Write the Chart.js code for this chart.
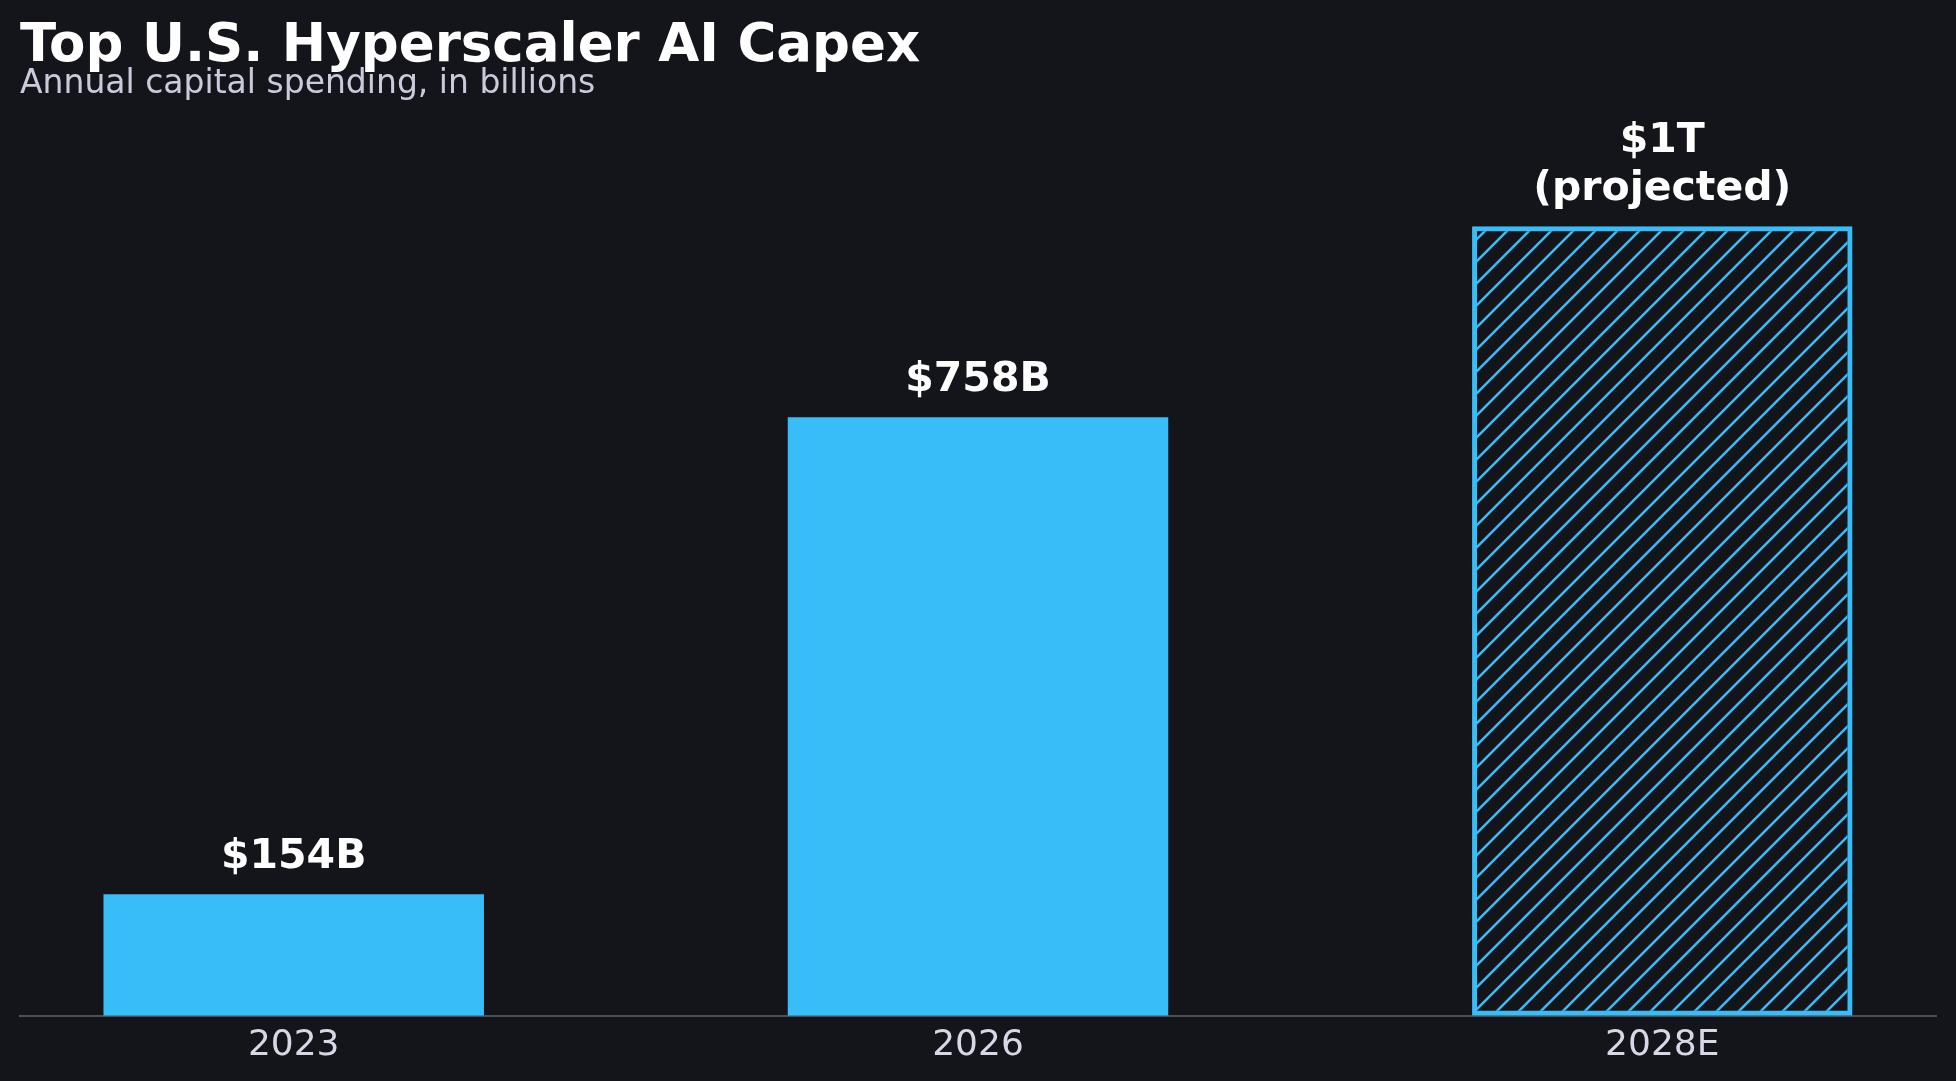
<!DOCTYPE html>
<html>
<head>
<meta charset="utf-8">
<title>Top U.S. Hyperscaler AI Capex</title>
<script src="https://cdn.jsdelivr.net/npm/chart.js@4.4.1/dist/chart.umd.min.js"></script>
<style>
  html, body { margin: 0; padding: 0; background: #14151a; }
  #wrap { width: 1956px; height: 1081px; position: relative; }
</style>
</head>
<body>
<div id="wrap"><canvas id="capexChart"></canvas></div>
<script>
const categories = ["2023", "2026", "2028E"];
const capexValues = [154, 758, 1000];
const valueLabels = ["$154B", "$758B", "$1T\n(projected)"];
const projected = [false, false, true];

const BLUE = "#38bdf8";
const FONT = "'DejaVu Sans', sans-serif";

function hatchPattern(color) {
  const s = 22;
  const c = document.createElement("canvas");
  c.width = s;
  c.height = s;
  const g = c.getContext("2d");
  g.strokeStyle = color;
  g.lineWidth = 2.5;
  g.beginPath();
  g.moveTo(0, s);
  g.lineTo(s, 0);
  g.moveTo(-2, 2);
  g.lineTo(2, -2);
  g.moveTo(s - 2, s + 2);
  g.lineTo(s + 2, s - 2);
  g.stroke();
  return g.createPattern(c, "repeat");
}

// draws the value text above each bar
const barLabelPlugin = {
  id: "barLabels",
  afterDatasetsDraw(chart) {
    const ctx = chart.ctx;
    const meta = chart.getDatasetMeta(0);
    ctx.save();
    ctx.fillStyle = "#ffffff";
    ctx.font = "bold 41px " + FONT;
    ctx.textAlign = "center";
    ctx.textBaseline = "alphabetic";
    meta.data.forEach((bar, i) => {
      const lines = valueLabels[i].split("\n");
      let y = bar.y - 26;
      for (let k = lines.length - 1; k >= 0; k--) {
        ctx.fillText(lines[k], bar.x, y);
        y -= 48;
      }
    });
    ctx.restore();
  },
};

const ctx = document.getElementById("capexChart").getContext("2d");
const pattern = hatchPattern(BLUE);

new Chart(ctx, {
  type: "bar",
  plugins: [barLabelPlugin],
  data: {
    datasets: [
      {
        data: capexValues.map((v, i) => ({ x: i, y: v })),
        backgroundColor: projected.map((p) => (p ? pattern : BLUE)),
        borderColor: BLUE,
        borderWidth: projected.map((p) => (p ? 5 : 0)),
        borderSkipped: false,
        barPercentage: 0.556,
        categoryPercentage: 1,
      },
    ],
  },
  options: {
    responsive: true,
    maintainAspectRatio: false,
    animation: false,
    layout: {
      padding: { left: 20, right: 20, top: 0, bottom: 6 },
    },
    plugins: {
      legend: { display: false },
      tooltip: { enabled: false },
      title: {
        display: true,
        text: "Top U.S. Hyperscaler AI Capex",
        align: "start",
        color: "#ffffff",
        font: { family: FONT, size: 53, weight: "bold", lineHeight: 0.8 },
        padding: { top: 26, bottom: 0 },
      },
      subtitle: {
        display: true,
        text: "Annual capital spending, in billions",
        align: "start",
        color: "#c9cbdc",
        font: { family: FONT, size: 33, lineHeight: 0.8 },
        padding: { top: 3, bottom: 6 },
      },
    },
    scales: {
      x: {
        type: "linear",
        min: -0.4,
        max: 2.4,
        offset: false,
        grid: { display: false, drawTicks: false, offset: false },
        border: { display: true, color: "#4d4e56", width: 2 },
        afterBuildTicks: (scale) => {
          scale.ticks = categories.map((c, i) => ({ value: i }));
        },
        ticks: {
          color: "#d6d8e6",
          font: { family: FONT, size: 36 },
          padding: 8,
          autoSkip: false,
          maxRotation: 0,
          callback: (v) => categories[v],
        },
      },
      y: {
        display: false,
        min: 0,
        max: 1155,
      },
    },
  },
});
</script>
</body>
</html>
